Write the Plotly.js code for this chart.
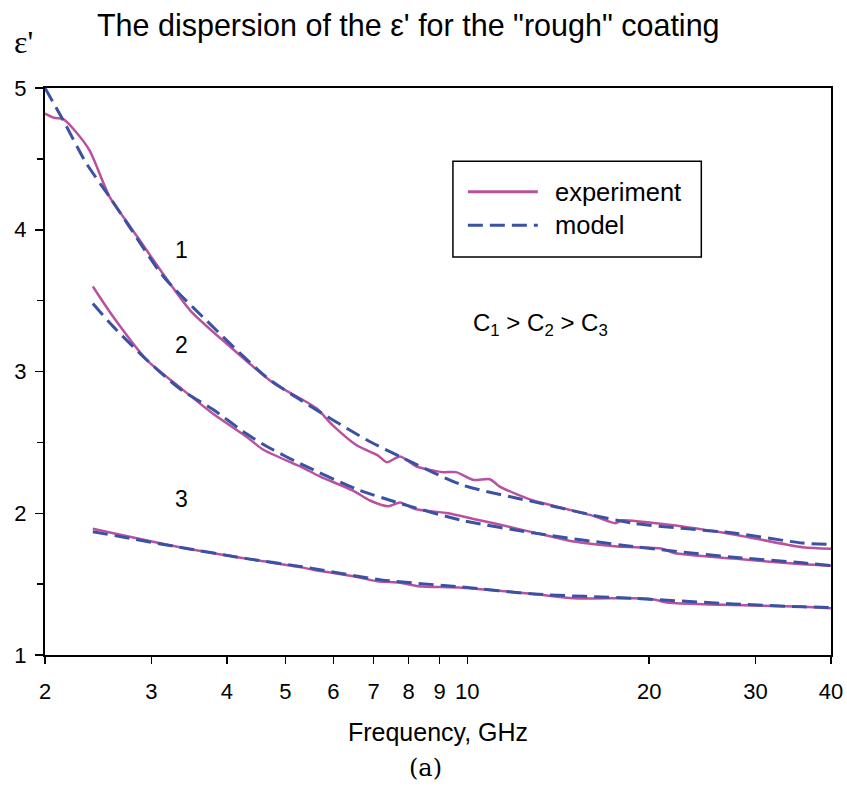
<!DOCTYPE html>
<html>
<head>
<meta charset="utf-8">
<script src="https://cdn.plot.ly/plotly-3.0.1.min.js"></script>
<style>html,body{margin:0;padding:0;background:#fff;}#chart{width:847px;height:793px;}</style>
</head>
<body>
<div id="chart"></div>
<script>
// Curve 1
const exp1F = [2.0, 2.07, 2.145, 2.24, 2.37, 2.56, 2.77, 3.10, 3.48, 4.05, 4.77, 5.29, 5.63, 5.99, 6.56, 7.10, 7.36, 7.74, 8.24, 9.12, 9.58, 10.24, 10.9, 11.3, 12.06, 12.86, 14.6, 16.2, 17.6, 18.0, 21.4, 27.6, 35.9, 40];
const exp1E = [4.82, 4.79, 4.78, 4.70, 4.56, 4.23, 4.02, 3.72, 3.43, 3.175, 2.92, 2.81, 2.74, 2.62, 2.48, 2.41, 2.36, 2.40, 2.33, 2.29, 2.29, 2.235, 2.24, 2.19, 2.135, 2.09, 2.03, 1.98, 1.93, 1.95, 1.92, 1.85, 1.76, 1.75];
const mod1F = [2.0, 2.145, 2.34, 2.56, 2.77, 3.14, 3.70, 4.65, 5.29, 6.8, 7.74, 9.8, 12.9, 18.8, 27.6, 35.9, 40];
const mod1E = [5.0, 4.77, 4.47, 4.23, 4.01, 3.67, 3.36, 2.96, 2.80, 2.52, 2.40, 2.20, 2.08, 1.93, 1.86, 1.79, 1.78];
// Curve 2
const exp2F = [2.40, 2.59, 2.95, 3.34, 3.80, 4.31, 4.59, 5.29, 5.7, 6.47, 6.9, 7.4, 7.74, 8.2, 9.3, 10.24, 11.3, 12.86, 15.0, 17.7, 21.0, 22.0, 27.6, 35.9, 40];
const exp2E = [3.60, 3.39, 3.08, 2.89, 2.70, 2.54, 2.45, 2.33, 2.26, 2.16, 2.09, 2.05, 2.075, 2.03, 2.00, 1.96, 1.92, 1.865, 1.80, 1.765, 1.75, 1.72, 1.68, 1.64, 1.63];
const mod2F = [2.40, 2.59, 2.95, 3.34, 3.80, 4.31, 4.71, 5.29, 6.56, 7.74, 9.8, 12.9, 18.8, 27.6, 35.9, 40];
const mod2E = [3.48, 3.32, 3.08, 2.88, 2.73, 2.56, 2.46, 2.35, 2.17, 2.07, 1.95, 1.86, 1.765, 1.69, 1.65, 1.63];
// Curve 3
const exp3F = [2.40, 3.34, 4.31, 5.29, 5.58, 6.47, 7.1, 7.74, 8.3, 9.8, 12.9, 15.0, 18.8, 20.5, 21.4, 35.9, 40];
const exp3E = [1.89, 1.76, 1.68, 1.62, 1.60, 1.555, 1.52, 1.51, 1.485, 1.475, 1.43, 1.40, 1.40, 1.39, 1.37, 1.34, 1.33];
const mod3F = [2.40, 3.34, 4.31, 5.29, 7.2, 9.8, 12.9, 18.8, 27.6, 35.9, 40];
const mod3E = [1.87, 1.76, 1.68, 1.625, 1.53, 1.48, 1.43, 1.40, 1.36, 1.34, 1.335];

const xTicks = [2, 3, 4, 5, 6, 7, 8, 9, 10, 20, 30, 40];
const xTickText = ['2', '3', '4', '5', '6', '7', '8', '9', '10', '20', '30', '40'];
const yTicks = [1, 2, 3, 4, 5];
const legendNames = ['experiment', 'model'];

const pink = '#b9519f';
const blue = '#3b52a3';
const dashPat = '15px,7px';

function expTrace(x, y) {
  return {x: x, y: y, type: 'scatter', mode: 'lines', name: legendNames[0], showlegend: false,
    line: {color: pink, width: 2.5, shape: 'spline', smoothing: 0.7}};
}
function modTrace(x, y) {
  return {x: x, y: y, type: 'scatter', mode: 'lines', name: legendNames[1], showlegend: false,
    line: {color: blue, width: 3, dash: dashPat, shape: 'spline', smoothing: 0.7}};
}

const data = [
  expTrace(exp1F, exp1E), modTrace(mod1F, mod1E),
  expTrace(exp2F, exp2E), modTrace(mod2F, mod2E),
  expTrace(exp3F, exp3E), modTrace(mod3F, mod3E)
];

const font = 'Liberation Sans, Arial, sans-serif';
const layout = {
  width: 847, height: 793,
  margin: {l: 45, r: 16, t: 88, b: 138},
  paper_bgcolor: '#fff', plot_bgcolor: '#fff',
  font: {family: font, color: '#000', size: 20},
  title: {text: 'The dispersion of the \u03b5\' for the "rough" coating', x: 0.482, xanchor: 'center',
    y: 0.968, yanchor: 'middle', font: {family: font, size: 30.5, color: '#000'}},
  showlegend: false,
  xaxis: {type: 'log', range: [Math.log10(2), Math.log10(40)], tickmode: 'array',
    tickvals: xTicks, ticktext: xTickText, ticks: 'outside', ticklen: 7, tickwidth: 1.5,
    tickcolor: '#000', showline: true, linecolor: '#000', linewidth: 2, mirror: true,
    showgrid: false, zeroline: false, ticklabelstandoff: 9,
    tickfont: {family: font, size: 22, color: '#000'},
    title: {text: 'Frequency, GHz', font: {family: font, size: 25, color: '#000'}, standoff: 20}},
  yaxis: {range: [1, 5], tickmode: 'array', tickvals: yTicks, ticks: 'outside', ticklen: 8,
    tickwidth: 1.5, tickcolor: '#000', showline: true, linecolor: '#000', linewidth: 2, mirror: true,
    showgrid: false, zeroline: false, ticklabelstandoff: 4,
    tickfont: {family: font, size: 22, color: '#000'},
    minor: {tickvals: [1.5, 2.5, 3.5, 4.5], ticks: 'outside', ticklen: 6, tickwidth: 1.5, tickcolor: '#000', showgrid: false}},
  shapes: [
    {type: 'rect', xref: 'paper', yref: 'paper', x0: 0.519, x1: 0.835, y0: 0.702, y1: 0.871,
      line: {color: '#000', width: 1.5}, fillcolor: '#fff', layer: 'below'},
    {type: 'line', xref: 'paper', yref: 'paper', x0: 0.538, x1: 0.627, y0: 0.817, y1: 0.817,
      line: {color: pink, width: 3}},
    {type: 'line', xref: 'paper', yref: 'paper', x0: 0.538, x1: 0.627, y0: 0.758, y1: 0.758,
      line: {color: blue, width: 3, dash: dashPat}}
  ],
  annotations: [
    {xref: 'paper', yref: 'paper', x: 0.646, y: 0.817, xanchor: 'left', yanchor: 'middle', showarrow: false,
      text: legendNames[0], font: {family: font, size: 25.5, color: '#000'}},
    {xref: 'paper', yref: 'paper', x: 0.646, y: 0.758, xanchor: 'left', yanchor: 'middle', showarrow: false,
      text: legendNames[1], font: {family: font, size: 25.5, color: '#000'}},
    {xref: 'paper', yref: 'paper', x: -0.027, y: 1.081, xanchor: 'center', yanchor: 'middle', showarrow: false,
      text: '\u03b5\'', font: {family: 'Liberation Serif, serif', size: 32, color: '#000'}},
    {xref: 'x', yref: 'y', x: Math.log10(3.37), y: 3.86, showarrow: false, text: '1', font: {size: 23}},
    {xref: 'x', yref: 'y', x: Math.log10(3.37), y: 3.19, showarrow: false, text: '2', font: {size: 23}},
    {xref: 'x', yref: 'y', x: Math.log10(3.37), y: 2.10, showarrow: false, text: '3', font: {size: 23}},
    {xref: 'paper', yref: 'paper', x: 0.63, y: 0.583, xanchor: 'center', yanchor: 'middle', showarrow: false,
      text: 'C<sub>1</sub> > C<sub>2</sub> > C<sub>3</sub>', font: {family: font, size: 24, color: '#000'}},
    {xref: 'paper', yref: 'paper', x: 0.484, y: -0.199, xanchor: 'center', yanchor: 'middle', showarrow: false,
      text: '(a)', font: {family: 'DejaVu Serif, serif', size: 24, color: '#000'}}
  ]
};

Plotly.newPlot('chart', data, layout, {displayModeBar: false, staticPlot: true});
</script>
</body>
</html>
